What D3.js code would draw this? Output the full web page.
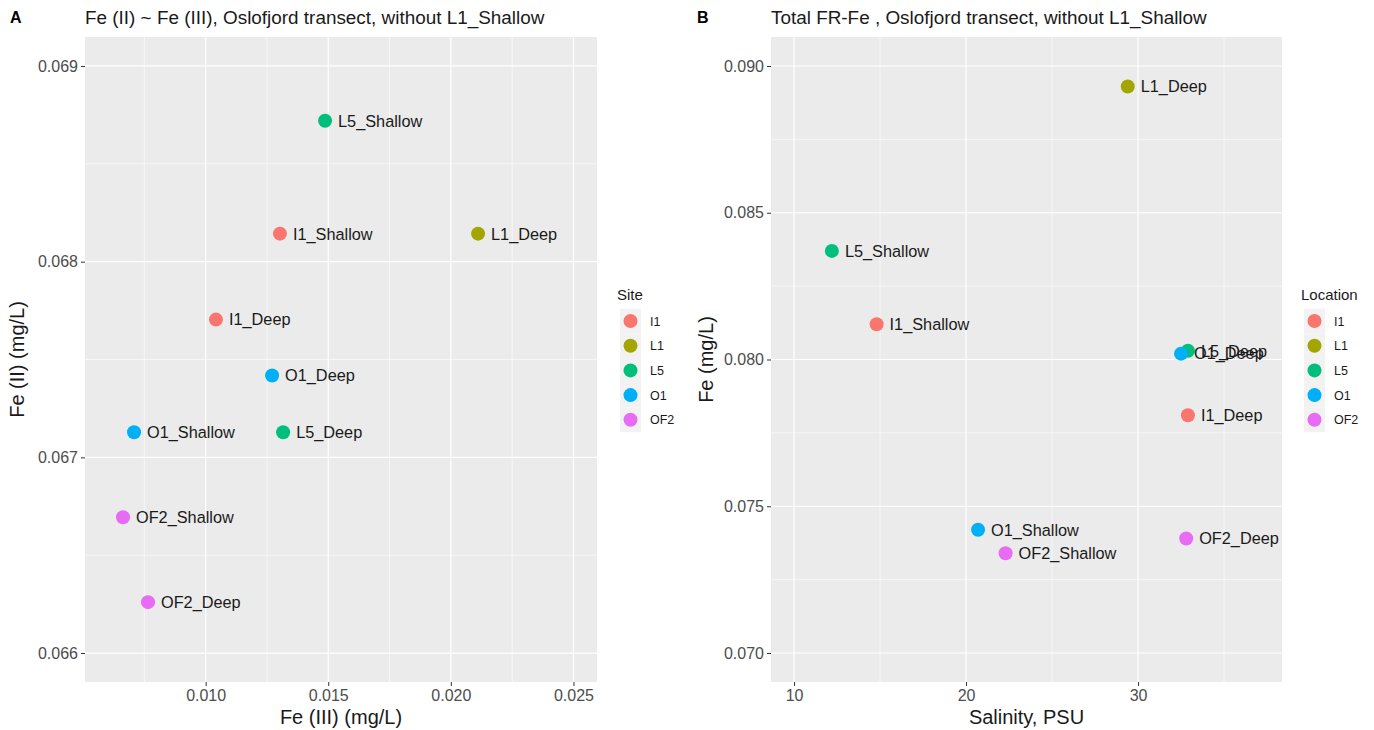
<!DOCTYPE html>
<html>
<head>
<meta charset="utf-8">
<script src="https://cdn.jsdelivr.net/npm/d3@7"></script>
<style>
  body { margin: 0; background: #fff; }
  text { font-family: "Liberation Sans", Arial, sans-serif; }
</style>
</head>
<body>
<svg width="1374" height="730"></svg>
<script>
// sites and colours (ggplot default hue palette)
const sites = ["I1", "L1", "L5", "O1", "OF2"]
const siteColors = ["#F8766D", "#A3A500", "#00BF7D", "#00B0F6", "#E76BF3"]

// panel A : Fe(III) vs Fe(II)
const aLabels = ["L5_Shallow", "I1_Shallow", "L1_Deep", "I1_Deep", "O1_Deep", "O1_Shallow", "L5_Deep", "OF2_Shallow", "OF2_Deep"]
const aSite   = ["L5", "I1", "L1", "I1", "O1", "O1", "L5", "OF2", "OF2"]
const aFe3    = [0.01487, 0.01303, 0.02111, 0.01042, 0.01271, 0.00708, 0.01316, 0.00663, 0.00765]
const aFe2    = [0.06872, 0.068143, 0.068143, 0.067704, 0.067418, 0.067128, 0.067128, 0.066694, 0.06626]
const aXTicks = [0.010, 0.015, 0.020, 0.025]
const aYTicks = [0.066, 0.067, 0.068, 0.069]

// panel B : salinity vs total Fe
const bLabels   = ["L1_Deep", "L5_Shallow", "I1_Shallow", "L5_Deep", "O1_Deep", "I1_Deep", "O1_Shallow", "OF2_Shallow", "OF2_Deep"]
const bSite     = ["L1", "L5", "I1", "L5", "O1", "I1", "O1", "OF2", "OF2"]
const bSalinity = [29.4, 12.2, 14.8, 32.9, 32.5, 32.9, 20.7, 22.3, 32.8]
const bFe       = [0.0893, 0.0837, 0.0812, 0.0803, 0.0802, 0.0781, 0.0742, 0.0734, 0.0739]
const bXTicks = [10, 20, 30]
const bYTicks = [0.070, 0.075, 0.080, 0.085, 0.090]

const svg = d3.select("svg")
const color = d3.scaleOrdinal().domain(sites).range(siteColors)

function drawPanel(opt) {
  let g = svg.append("g")
  let x = d3.scaleLinear().domain(opt.xDomain).range([opt.left, opt.right])
  let y = d3.scaleLinear().domain(opt.yDomain).range([opt.bottom, opt.top])

  // panel background
  g.append("rect")
    .attr("x", opt.left).attr("y", opt.top)
    .attr("width", opt.right - opt.left).attr("height", opt.bottom - opt.top)
    .attr("fill", "#EBEBEB")

  // minor grid
  g.selectAll(".minx").data(opt.xMinor).enter().append("line")
    .attr("x1", d => x(d)).attr("x2", d => x(d))
    .attr("y1", opt.top).attr("y2", opt.bottom)
    .attr("stroke", "#fff").attr("stroke-width", 0.6)
  g.selectAll(".miny").data(opt.yMinor).enter().append("line")
    .attr("y1", d => y(d)).attr("y2", d => y(d))
    .attr("x1", opt.left).attr("x2", opt.right)
    .attr("stroke", "#fff").attr("stroke-width", 0.6)

  // major grid
  g.selectAll(".majx").data(opt.xTicks).enter().append("line")
    .attr("x1", d => x(d)).attr("x2", d => x(d))
    .attr("y1", opt.top).attr("y2", opt.bottom)
    .attr("stroke", "#fff").attr("stroke-width", 1.2)
  g.selectAll(".majy").data(opt.yTicks).enter().append("line")
    .attr("y1", d => y(d)).attr("y2", d => y(d))
    .attr("x1", opt.left).attr("x2", opt.right)
    .attr("stroke", "#fff").attr("stroke-width", 1.2)

  // axes
  let xAxis = d3.axisBottom(x).tickValues(opt.xTicks).tickFormat(opt.xFormat).tickSize(4).tickPadding(4)
  let yAxis = d3.axisLeft(y).tickValues(opt.yTicks).tickFormat(opt.yFormat).tickSize(4).tickPadding(3)

  let xg = g.append("g").attr("transform", `translate(0,${opt.bottom})`).call(xAxis)
  let yg = g.append("g").attr("transform", `translate(${opt.left},0)`).call(yAxis)
  ;[xg, yg].forEach(a => {
    a.select(".domain").remove()
    a.selectAll(".tick line").attr("stroke", "#333").attr("stroke-width", 1)
    a.selectAll(".tick text").attr("fill", "#4D4D4D").attr("font-size", "16px")
      .style("font-family", "Liberation Sans, Arial, sans-serif")
  })

  // axis titles
  g.append("text")
    .attr("x", (opt.left + opt.right) / 2).attr("y", 724)
    .attr("text-anchor", "middle").attr("font-size", "20px").attr("fill", "#1a1a1a")
    .text(opt.xTitle)
  g.append("text")
    .attr("transform", `translate(${opt.yTitleX},${(opt.top + opt.bottom) / 2}) rotate(-90)`)
    .attr("text-anchor", "middle").attr("font-size", "20px").attr("fill", "#1a1a1a")
    .text(opt.yTitle)

  // panel tag and title
  g.append("text").attr("x", opt.tagX).attr("y", 23)
    .attr("font-size", "16px").attr("font-weight", "bold").text(opt.tag)
  g.append("text").attr("x", opt.left).attr("y", 24)
    .attr("font-size", "18.9px").attr("fill", "#1a1a1a").text(opt.title)

  // points + labels
  let data = opt.labels.map((l, i) => ({label: l, site: opt.site[i], x: opt.xs[i], y: opt.ys[i]}))
  g.selectAll(".pt").data(data).enter().append("circle")
    .attr("cx", d => x(d.x)).attr("cy", d => y(d.y))
    .attr("r", 7).attr("fill", d => color(d.site))
  g.selectAll(".lbl").data(data).enter().append("text")
    .attr("x", d => x(d.x) + 13).attr("y", d => y(d.y))
    .attr("dy", "0.36em").attr("font-size", "16.3px").attr("fill", "#1a1a1a")
    .text(d => d.label)

  // legend
  let lg = g.append("g")
  lg.append("text").attr("x", opt.legX - 3).attr("y", 300)
    .attr("font-size", "15px").attr("fill", "#1a1a1a").text(opt.legTitle)
  sites.forEach((s, i) => {
    let cy = 321 + i * 24.7
    lg.append("rect").attr("x", opt.legX).attr("y", cy - 12.35)
      .attr("width", 21).attr("height", 24.7).attr("fill", "#F2F2F2")
    lg.append("circle").attr("cx", opt.legX + 10.5).attr("cy", cy).attr("r", 7).attr("fill", color(s))
    lg.append("text").attr("x", opt.legX + 30).attr("y", cy).attr("dy", "0.36em")
      .attr("font-size", "12.5px").attr("fill", "#1a1a1a").text(s)
  })
}

drawPanel({
  left: 85, right: 597, top: 37, bottom: 682,
  xDomain: [0.00508, 0.02596], yDomain: [0.065852, 0.069148],
  xTicks: aXTicks, yTicks: aYTicks,
  xMinor: [0.0075, 0.0125, 0.0175, 0.0225], yMinor: [0.0665, 0.0675, 0.0685],
  xFormat: d3.format(".3f"), yFormat: d3.format(".3f"),
  xTitle: "Fe (III) (mg/L)", yTitle: "Fe (II) (mg/L)", yTitleX: 24,
  tag: "A", tagX: 10, title: "Fe (II) ~ Fe (III), Oslofjord transect, without L1_Shallow",
  labels: aLabels, site: aSite, xs: aFe3, ys: aFe2,
  legTitle: "Site", legX: 620
})

drawPanel({
  left: 771, right: 1282, top: 37, bottom: 682,
  xDomain: [8.66, 38.37], yDomain: [0.069012, 0.090988],
  xTicks: bXTicks, yTicks: bYTicks,
  xMinor: [15, 25, 35], yMinor: [0.0725, 0.0775, 0.0825, 0.0875],
  xFormat: d3.format("d"), yFormat: d3.format(".3f"),
  xTitle: "Salinity, PSU", yTitle: "Fe (mg/L)", yTitleX: 713,
  tag: "B", tagX: 697, title: "Total FR-Fe , Oslofjord transect, without L1_Shallow",
  labels: bLabels, site: bSite, xs: bSalinity, ys: bFe,
  legTitle: "Location", legX: 1304
})
</script>
</body>
</html>
